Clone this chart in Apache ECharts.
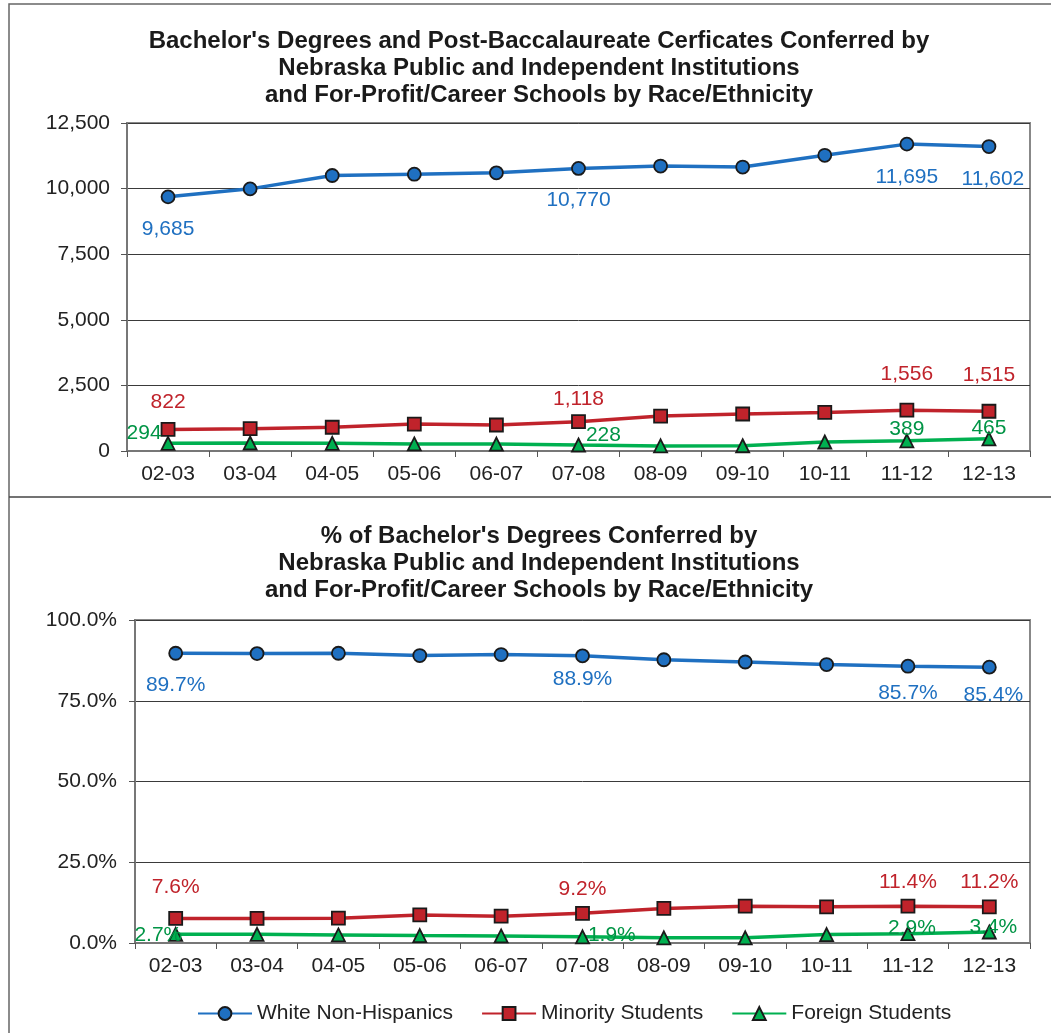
<!DOCTYPE html>
<html>
<head>
<meta charset="utf-8">
<script src="https://cdn.jsdelivr.net/npm/echarts@6/dist/echarts.min.js"></script>
<style>
html,body{margin:0;padding:0;background:#fff;}
#main{width:1051px;height:1033px;}
</style>
</head>
<body>
<div id="main"></div>
<script>
// ---- data ----
var categories = ['02-03','03-04','04-05','05-06','06-07','07-08','08-09','09-10','10-11','11-12','12-13'];
var whiteCount    = [9685, 9990, 10500, 10550, 10600, 10770, 10860, 10820, 11270, 11695, 11602];
var minorityCount = [822, 850, 905, 1025, 990, 1118, 1330, 1410, 1470, 1556, 1515];
var foreignCount  = [294, 305, 292, 270, 265, 228, 195, 200, 343, 389, 465];
var whitePct    = [89.7, 89.6, 89.7, 89.0, 89.3, 88.9, 87.7, 87.0, 86.2, 85.7, 85.4];
var minorityPct = [7.6, 7.6, 7.7, 8.7, 8.3, 9.2, 10.7, 11.4, 11.2, 11.4, 11.2];
var foreignPct  = [2.7, 2.7, 2.5, 2.3, 2.2, 1.9, 1.6, 1.6, 2.6, 2.9, 3.4];
var countTicks = [0, 2500, 5000, 7500, 10000, 12500];
var pctTicks = [0, 25, 50, 75, 100];
var seriesNames = ['White Non-Hispanics', 'Minority Students', 'Foreign Students'];
var title1 = "Bachelor's Degrees and Post-Baccalaureate Cerficates Conferred by\nNebraska Public and Independent Institutions\nand For-Profit/Career Schools by Race/Ethnicity";
var title2 = "% of Bachelor's Degrees Conferred by\nNebraska Public and Independent Institutions\nand For-Profit/Career Schools by Race/Ethnicity";
var labeledIdx = [0, 5, 9, 10];

// ---- styling ----
var FONT = 'Liberation Sans, Arial, sans-serif';
var BLUE = '#1F70C1', RED = '#C0232B', GREEN = '#00B050';
var GREEN_TXT = '#009445';
var EDGE = '#1a1a1a';
var FS = 21;

function fmtCount(v){ return v.toLocaleString('en-US'); }
function fmtPct(v){ return v.toFixed(1) + '%'; }

// label placement per labeled point (index -> [position, distance, offset])
var labelCfg = {
  cWhite:  {0:['bottom',14,[0,0]],5:['bottom',14,[0,0]],9:['bottom',15,[0,0]],10:['bottom',15,[4,0]]},
  cMin:    {0:['top',9,[0,0]],5:['top',5,[0,0]],9:['top',18,[0,0]],10:['top',18,[0,0]]},
  cFor:    {0:['left',-1,[0,-10]],5:['right',0,[0,-10]],9:['top',-6,[0,0]],10:['top',-7,[0,0]]},
  pWhite:  {0:['bottom',14,[0,0]],5:['bottom',5,[0,0]],9:['bottom',9,[0,0]],10:['bottom',10,[4,0]]},
  pMin:    {0:['top',13,[0,0]],5:['top',6,[0,0]],9:['top',6,[0,0]],10:['top',7,[0,0]]},
  pFor:    {0:['left',-14,[0,1]],5:['right',-4,[2,-2]],9:['top',-12,[4,0]],10:['top',-13,[4,0]]}
};

function buildData(values, cfg, fmt, color){
  return values.map(function(v, i){
    var item = {value: v};
    if (labeledIdx.indexOf(i) >= 0 && cfg[i]) {
      item.label = {show: true, position: cfg[i][0], distance: cfg[i][1], offset: cfg[i][2],
        formatter: fmt(v), color: color, fontSize: FS, fontFamily: FONT};
    }
    return item;
  });
}

function lineSeries(name, values, cfg, fmt, color, txtColor, symbol, size, axisIdx){
  return {
    name: name, type: 'line', xAxisIndex: axisIdx, yAxisIndex: axisIdx,
    data: buildData(values, cfg, fmt, txtColor),
    symbol: symbol, symbolSize: size, showAllSymbol: true,
    lineStyle: {color: color, width: 3.5},
    itemStyle: {color: color, borderColor: EDGE, borderWidth: 1.8},
    label: {show: false},
    emphasis: {disabled: true},
    animation: false, z: symbol === 'circle' ? 5 : 4
  };
}

function xAxis(gridIndex){
  return {
    type: 'category', gridIndex: gridIndex, data: categories, boundaryGap: true,
    axisLine: {lineStyle: {color: '#777', width: 2}},
    axisTick: {show: true, length: 6, lineStyle: {color: '#555', width: 1}},
    axisLabel: {color: '#222', fontSize: FS, fontFamily: FONT, margin: 13},
    splitLine: {show: false}
  };
}
function yAxis(gridIndex, max, interval, fmt, margin){
  return {
    type: 'value', gridIndex: gridIndex, min: 0, max: max, interval: interval,
    axisLine: {show: true, lineStyle: {color: '#777', width: 2}},
    axisTick: {show: true, length: 6, lineStyle: {color: '#555'}},
    axisLabel: {color: '#222', fontSize: FS, fontFamily: FONT, margin: margin, formatter: fmt},
    splitLine: {show: true, lineStyle: {color: '#3a3a3a', width: 1}}
  };
}

var chart = echarts.init(document.getElementById('main'), null, {renderer: 'canvas'});
chart.setOption({
  backgroundColor: '#fff',
  animation: false,
  title: [
    {text: title1, left: 534, top: 23, textAlign: 'center',
     textStyle: {fontFamily: FONT, fontWeight: 'bold', fontSize: 24, lineHeight: 27, color: '#1a1a1a'}},
    {text: title2, left: 534, top: 518, textAlign: 'center',
     textStyle: {fontFamily: FONT, fontWeight: 'bold', fontSize: 24, lineHeight: 27, color: '#1a1a1a'}}
  ],
  legend: {
    data: seriesNames, bottom: 4, left: 192,
    itemWidth: 54, itemHeight: 16, itemGap: 28,
    textStyle: {fontFamily: FONT, fontSize: FS, color: '#222'},
    selectedMode: false
  },
  grid: [
    {left: 127, top: 123, width: 903, height: 328, show: true, borderColor: '#888', borderWidth: 2, backgroundColor: 'transparent'},
    {left: 135, top: 620, width: 895, height: 323, show: true, borderColor: '#888', borderWidth: 2, backgroundColor: 'transparent'}
  ],
  xAxis: [xAxis(0), xAxis(1)],
  yAxis: [
    yAxis(0, countTicks[countTicks.length-1], countTicks[1] - countTicks[0], function(v){ return fmtCount(v); }, 17),
    yAxis(1, pctTicks[pctTicks.length-1], pctTicks[1] - pctTicks[0], function(v){ return v.toFixed(1) + '%'; }, 18)
  ],
  graphic: [
    {type: 'rect', shape: {x: 9, y: 4, width: 1060, height: 1050}, style: {fill: 'none', stroke: '#666', lineWidth: 1.5}, z: 0, silent: true},
    {type: 'line', shape: {x1: 9, y1: 497, x2: 1060, y2: 497}, style: {stroke: '#444', lineWidth: 1.5}, z: 0, silent: true}
  ],
  series: [
    lineSeries(seriesNames[0], whiteCount, labelCfg.cWhite, fmtCount, BLUE, BLUE, 'circle', 13, 0),
    lineSeries(seriesNames[1], minorityCount, labelCfg.cMin, fmtCount, RED, RED, 'rect', 13, 0),
    lineSeries(seriesNames[2], foreignCount, labelCfg.cFor, fmtCount, GREEN, GREEN_TXT, 'triangle', 13, 0),
    lineSeries(seriesNames[0], whitePct, labelCfg.pWhite, fmtPct, BLUE, BLUE, 'circle', 13, 1),
    lineSeries(seriesNames[1], minorityPct, labelCfg.pMin, fmtPct, RED, RED, 'rect', 13, 1),
    lineSeries(seriesNames[2], foreignPct, labelCfg.pFor, fmtPct, GREEN, GREEN_TXT, 'triangle', 13, 1)
  ]
});
</script>
</body>
</html>
